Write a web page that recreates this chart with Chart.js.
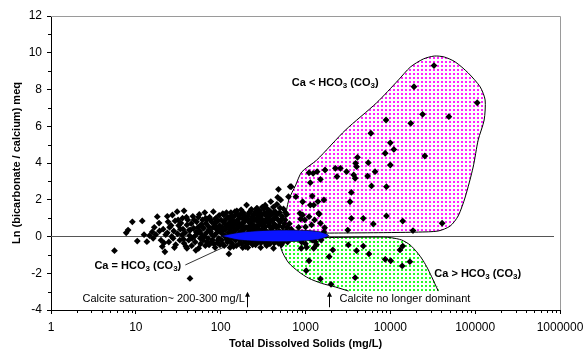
<!DOCTYPE html>
<html lang="en">
<head>
<meta charset="UTF-8">
<title>Ln (bicarbonate / calcium) vs Total Dissolved Solids</title>
<script src="https://cdn.jsdelivr.net/npm/chart.js"></script>
<style>
  body { margin: 0; background: #fff; }
</style>
</head>
<body>
<canvas id="tdsChart" width="585" height="353"></canvas>
<script>
// axis ticks
const xTicks = [1, 10, 100, 1000, 10000, 100000, 1000000];
const yMin = -4, yMax = 12, yStep = 2;

// samples: [TDS mg/L, ln(HCO3/Ca)]
const clusterPoints = [
  [5.6,-0.77],[7.7,0.2],[8.1,0.35],[9.1,0.8],[10.4,-0.25],[11.9,0.85],[12.5,0.1],[13.5,-0.28],[14.5,0.05],
  [15.6,0.25],[16,-0.1],[16.5,0.5],[17.2,0.1],[17.9,1.08],[18.8,0.73],[19,0.3],[19.8,-0.2],[20.5,-0.55],[21,0.4],
  [21.5,-0.35],[22,-0.83],[22.5,0.1],[23.5,1.1],[23.5,0.2],[24,0.8],[24.5,-0.3],[25,0.5],[26,0.6],[26.5,0.0],
  [27,1.17],[27.5,-0.1],[28,0.3],[28.5,-0.6],[29,0.85],[29.5,-0.45],[30.7,1.35],[31,0.15],[31.5,0.9],[32,0.6],
  [33,-0.2],[33.5,0.4],[34,0.73],[35,0.08],[35.5,1.0],[36,0.4],[36.5,-0.15],[37,1.4],[37,-0.37],[38,0.2],
  [39,-0.55],[39.5,1.05],[40,0.63],[40,-0.64],[41,0.9],[42,-0.2],[42.5,0.35],[43,0.05],[43.5,-2.28],[44,0.35],
  [45,0.7],[45.5,-0.5],[46,-0.1],[47,1.1],[48,0.45],[48.5,0.9],[49,0.0],[50,-0.3],[51,-0.75],[51.5,0.25],
  [52,0.8],[53,0.17],[54,0.5],[54.5,1.05],[55,-0.64],[56,1.2],[57,0.3],[57.5,-0.1],[58,-0.4],[59,0.65],
  [60,0.1],[60.5,0.55],[61,0.9],[62,-0.2],[63,0.45],[64,0.0],[65,1.3],[66,-0.5],[66.5,1.0],[67,0.72],
  [68,0.2],[69,-0.3],[70,0.95],[71,-0.1],[72,0.55],[72.5,0.35],[73,-0.46],[74,1.05],[75,0.3],[76,0.26],
  [76.5,0.9],[77,-0.3],[78,0.8],[79,0.1],[80,-0.19],[81,0.5],[82,1.35],[83,-0.4],[84,0.05],[85,0.7],
  [86,-0.6],[86.5,0.95],[87,0.45],[88,1.0],[89,0.5],[90,0.2],[91,-0.35],[92,0.85],[93,-0.2],[94,0.4],
  [95,-0.1],[96,1.15],[97,0.6],[97.5,0.3],[98,-0.45],[99,0.25],
  [101,0.9],[102,0.3],[103,-0.2],[104,0.5],[105,-0.4],[106,1.25],[107,0.1],[108,0.8],[109,1.17],[110,-0.5],
  [111,0.7],[112,0.05],[113,0.35],[115,-0.05],[116,0.95],[117,1.3],[118,0.55],[119,-0.15],[120,-0.3],[121,0.6],
  [122,1.05],[124,0.2],[125,-0.95],[126,0.75],[127,1.0],[128,0.4],[129,-0.6],[130,-0.15],[131,0.25],[132,1.3],
  [134,0.6],[135,1.15],[136,0.9],[136,-0.37],[138,0.15],[139,0.75],[140,0.5],[142,-0.55],[143,-0.1],[144,1.1],
  [146,0.3],[147,1.35],[148,0.8],[149,0.35],[150,-0.2],[152,0.65],[153,-0.5],[155,1.4],[156,0.85],[157,0.05],
  [159,1.2],[160,0.45],[162,0.95],[163,0.15],[165,-0.4],[166,1.0],[167,0.7],[168,-0.2],[170,1.2],[171,0.6],
  [172,0.25],[174,1.45],[175,-0.1],[177,-0.4],[178,0.55],[180,0.99],[181,0.3],[182,-0.6],[184,0.75],[185,1.3],
  [187,-0.05],[188,0.4],[190,0.8],[191,1.15],[193,-0.25],[195,0.5],[196,-0.55],[198,1.0],[199,-0.35],
  [202,1.71],[204,0.5],[205,0.95],[207,0.15],[209,-0.6],[210,1.1],[212,0.4],[213,-0.35],[215,1.26],[216,0.0],
  [218,0.75],[220,0.3],[221,1.35],[223,-0.1],[224,0.6],[226,0.9],[228,-0.3],[230,1.48],[232,0.45],[233,0.85],
  [235,1.08],[237,0.2],[238,-0.45],[240,0.65],[242,1.0],[243,1.2],[245,-0.15],[246,0.2],[248,0.45],[250,0.9],
  [252,1.2],[253,-0.2],[256,1.35],[258,-0.45],[260,0.55],[262,0.95],[265,1.53],[267,0.35],[268,0.1],[270,1.53],
  [272,1.25],[273,0.8],[276,-0.3],[278,0.6],[280,1.1],[282,-0.1],[284,0.4],[286,0.85],[288,1.4],[290,1.3],
  [292,0.7],[294,0.25],[296,-0.6],[298,-0.35],[300,1.0],[302,0.65],[305,0.3],[308,1.2],[310,1.6],[312,0.1],
  [315,0.85],[318,0.45],[320,-0.15],[323,1.5],[325,1.25],[328,-0.3],[330,0.5],[333,0.75],[335,1.7],[338,1.15],
  [340,0.9],[343,0.3],[345,-0.4],[348,-0.5],[350,1.53],[353,0.95],[355,0.2],[358,1.35],[360,1.15],[364,0.05],
  [366,0.6],[370,0.75],[372,-0.25],[376,1.1],[378,1.4],[381,-0.4],[384,0.85],[387,0.55],[390,1.9],[393,1.25],
  [396,0.4],[399,-0.1],[402,1.2],[405,0.9],[410,0.15],[414,0.5],[418,1.6],[420,-0.64],[423,1.3],[426,0.7],
  [430,-0.35],[433,1.0],[437,0.6],[440,1.35],[444,1.05],[446,-0.2],[452,0.5],[455,0.2],[460,1.75],[465,1.2],
  [470,2.13],[475,0.9],[480,2.57],[480,-0.37],[485,0.6],[488,0.3],[495,1.3],[500,1.55],[505,0.8],[510,1.99],
  [515,0.2],[520,-0.45],[525,0.95],[530,1.1],[540,0.5],[545,-0.3],[550,1.5],[560,-0.1],[565,0.7],[575,0.9],
  [580,1.3],[590,0.3],[600,1.2],[610,0.5],[615,-0.3],[630,2.17],[645,0.7],[660,2.71],[680,0.4],
  [830,0.5],[900,-0.3],[1000,-0.4],[1100,0.1],[1200,-0.2],[1350,-0.45]
];
const upperPoints = [
  [32700,9.3],[19000,8.15],[105700,7.28],[24000,6.65],[49000,6.52],[8900,6.34],[17400,6.16],[5900,5.62],
  [10000,5.1],[11000,4.74],[8700,4.53],[25500,4.38],[4100,4.31],[10000,3.89],[5500,4.02],[3900,3.98],
  [4000,3.8],[6600,3.53],[5400,3.29],[2250,3.71],[2580,3.71],[3050,3.53],[3700,3.35],[3850,3.17],
  [2350,3.26],[1700,3.62],[1500,3.11],[1370,3.53],[1230,3.44],[1100,3.47],[1140,2.93],[680,2.71],
  [6000,2.75],[9000,2.71],[3470,2.4],[1200,2.2],[770,2.17],[1400,1.9],[1650,1.99],[1140,1.71],
  [3350,1.89],[1430,1.26],[9000,1.12],[3470,0.99],[925,1.89],[1250,1.71],[860,1.26],[925,1.17],
  [1100,1.08],[980,0.9],[1280,0.9],[1450,1.22],[1500,0.72],[1680,0.48],[4800,0.99],[6300,0.68],
  [14000,0.84],[3150,0.35],[18500,0.32],[40800,0.72],[875,0.95],[1000,0.52],[1180,0.63],[1650,0.25]
];
const lowerPoints = [
  [890,-0.64],[1030,-0.59],[1250,-0.64],[1300,-0.28],[1530,-0.19],[2100,-0.73],[1900,-1.1],[3200,-0.46],
  [4000,-0.77],[4800,-0.52],[5600,-0.95],[13000,-0.73],[14000,-0.52],[8700,-1.24],[10100,-1.32],[13800,-1.6],
  [17000,-1.37],[1100,-1.32],[1020,-1.86],[1500,-2.31],[3850,-2.24],[2000,-2.6]
];

// outlined fields
const upperRegion = [
  [532,0.14],[570,0.9],[635,1.99],[767,2.8],[902,3.51],[1355,4.16],[2970,5.8],[6870,7.27],[12470,8.52],
  [17200,9.22],[24450,9.66],[32960,9.82],[43200,9.77],[58200,9.5],[82800,8.9],[114600,8.14],[131000,7.43],
  [127600,6.34],[108500,5.25],[94700,3.78],[76400,2.15],[63100,1.12],[50800,0.57],[36700,0.3],[21400,0.24],
  [8300,0.21],[2460,0.19],[832,0.17],[532,0.14]
];
const lowerRegion = [
  [498,-0.46],[540,-0.9],[635,-1.44],[832,-1.92],[1090,-2.27],[1550,-2.55],[2265,-2.75],[3220,-2.97],
  [36700,-2.97],[30700,-2.19],[26800,-1.64],[23400,-1.19],[20400,-0.83],[17100,-0.46],[13600,-0.19],
  [10400,-0.07],[8300,-0.03],[2460,-0.05],[832,-0.08],[530,-0.08],[498,-0.46]
];
const lowerOpenEdge = 7; // bottom edge of the lower field is not outlined
const equalBand = [
  [100.8,0.03],[164,0.22],[323,0.33],[727,0.35],[1430,0.27],[1875,0.05],
  [1430,-0.16],[727,-0.27],[323,-0.27],[164,-0.19],[100.8,0.03]
];
const equalLeader = [[38.3,-1.55],[139.5,-0.35]];
const zeroLine = [[1,0],[850000,0]];

const notes = [
  { text: 'Ca < HCO_3 (CO_3)', x: 689, y: 8.35, bold: true },
  { text: 'Ca = HCO_3 (CO_3)', x: 3.25, y: -1.6, bold: true },
  { text: 'Ca > HCO_3 (CO_3)', x: 33000, y: -2.04, bold: true },
  { text: 'Calcite saturation~ 200-300 mg/L', x: 2.35, y: -3.4 },
  { text: 'Calcite no longer dominant', x: 2520, y: -3.4 }
];
const arrowTDS = [205, 1910];
const arrowFrom = -3.85, arrowTo = -3.0;

const FONT = 'Arial, "Liberation Sans", sans-serif';

function toXY(pairs) {
  return pairs.map(p => ({ x: p[0], y: p[1] }));
}

function dotPattern(color) {
  const c = document.createElement('canvas');
  c.width = 4; c.height = 4;
  const g = c.getContext('2d');
  g.fillStyle = color;
  g.fillRect(1, 1, 2, 2);
  return g.createPattern(c, 'repeat');
}

function drawNote(ctx, note, px, py) {
  const parts = note.text.split(/_(\d)/);
  let x = px;
  ctx.textBaseline = 'middle';
  ctx.textAlign = 'left';
  ctx.fillStyle = '#000';
  parts.forEach((part, i) => {
    const sub = i % 2 === 1;
    const size = sub ? 8 : 11;
    ctx.font = (note.bold ? 'bold ' : '') + size + 'px ' + FONT;
    ctx.fillText(part, x, sub ? py + 3 : py);
    x += ctx.measureText(part).width;
  });
}

const extras = {
  id: 'extras',
  afterDraw(chart) {
    const ctx = chart.ctx;
    const xs = chart.scales.x, ys = chart.scales.y;
    const a = chart.chartArea;
    ctx.save();
    // frame top / right
    ctx.strokeStyle = '#9a9a9a';
    ctx.lineWidth = 1;
    ctx.beginPath();
    ctx.moveTo(a.left, a.top + 0.5);
    ctx.lineTo(a.right + 0.5, a.top + 0.5);
    ctx.lineTo(a.right + 0.5, a.bottom);
    ctx.stroke();
    // minor ticks
    ctx.strokeStyle = '#000';
    ctx.beginPath();
    for (let d = 1; d < 1000000; d *= 10) {
      for (let k = 2; k <= 9; k++) {
        const px = Math.round(xs.getPixelForValue(d * k)) + 0.5;
        ctx.moveTo(px, a.bottom);
        ctx.lineTo(px, a.bottom + 3);
      }
    }
    for (let v = yMin + 1; v < yMax; v += yStep) {
      const py = Math.round(ys.getPixelForValue(v)) + 0.5;
      ctx.moveTo(a.left, py);
      ctx.lineTo(a.left - 3, py);
    }
    ctx.stroke();
    // notes
    notes.forEach(n => drawNote(ctx, n, xs.getPixelForValue(n.x), ys.getPixelForValue(n.y)));
    // arrows
    ctx.strokeStyle = '#000';
    ctx.fillStyle = '#000';
    arrowTDS.forEach(v => {
      const px = Math.round(xs.getPixelForValue(v)) + 0.5;
      const y0 = ys.getPixelForValue(arrowFrom), y1 = ys.getPixelForValue(arrowTo);
      ctx.beginPath();
      ctx.moveTo(px, y0);
      ctx.lineTo(px, y1 + 3);
      ctx.stroke();
      ctx.beginPath();
      ctx.moveTo(px, y1);
      ctx.lineTo(px - 2.5, y1 + 5);
      ctx.lineTo(px + 2.5, y1 + 5);
      ctx.closePath();
      ctx.fill();
    });
    ctx.restore();
  }
};

const outline = { showLine: true, pointRadius: 0, borderColor: '#000', borderWidth: 1, tension: 0.25 };
const marker = { pointStyle: 'rectRot', pointRadius: 3.4, backgroundColor: '#000', borderWidth: 0, showLine: false };

new Chart(document.getElementById('tdsChart'), {
  type: 'scatter',
  data: {
    datasets: [
      Object.assign({ data: toXY(zeroLine), order: 9 }, outline, { borderColor: '#555', tension: 0 }),
      Object.assign({ data: toXY(upperRegion), order: 8, fill: 'shape', backgroundColor: dotPattern('#ff22ff') }, outline),
      Object.assign({ data: toXY(lowerRegion), order: 7, fill: 'shape', backgroundColor: dotPattern('#22ff22') }, outline,
        { borderColor: 'rgba(0,0,0,0)' }),
      Object.assign({ data: toXY(lowerRegion.slice(0, lowerOpenEdge + 1)), order: 6 }, outline),
      Object.assign({ data: toXY(lowerRegion.slice(lowerOpenEdge + 1)), order: 6 }, outline),
      Object.assign({ data: toXY(equalLeader), order: 6 }, outline, { tension: 0, borderWidth: 0.8 }),
      Object.assign({ data: toXY(clusterPoints), order: 3 }, marker),
      Object.assign({ data: toXY(upperPoints), order: 2 }, marker),
      Object.assign({ data: toXY(lowerPoints), order: 2 }, marker),
      Object.assign({ data: toXY(equalBand), order: 1, fill: 'shape', backgroundColor: '#0a14ff' }, outline, { borderWidth: 0.7, tension: 0.3 })
    ]
  },
  options: {
    responsive: false,
    animation: false,
    events: [],
    layout: { padding: { left: 0, top: 16, right: 25, bottom: 0 } },
    plugins: { legend: { display: false }, tooltip: { enabled: false } },
    scales: {
      x: {
        type: 'logarithmic',
        min: 1,
        max: 1000000,
        afterBuildTicks: s => { s.ticks = xTicks.map(v => ({ value: v })); },
        afterFit: s => { s.height = 43; s.paddingLeft = 0; s.paddingRight = 0; },
        grid: { drawOnChartArea: false, tickLength: 4, color: '#000' },
        border: { color: '#000', width: 1 },
        ticks: {
          autoSkip: false, maxRotation: 0, padding: 6, color: '#000',
          font: { family: FONT, size: 12 },
          callback: v => String(v)
        },
        title: {
          display: true, text: 'Total Dissolved Solids (mg/L)', color: '#000',
          font: { family: FONT, size: 11, weight: 'bold' }, padding: { top: 0, bottom: 2 }
        }
      },
      y: {
        min: yMin,
        max: yMax,
        afterFit: s => { s.width = 51; s.paddingTop = 0; s.paddingBottom = 0; },
        grid: { drawOnChartArea: false, tickLength: 4, color: '#000' },
        border: { color: '#000', width: 1 },
        ticks: {
          stepSize: yStep, padding: 5, color: '#000',
          font: { family: FONT, size: 12 }
        },
        title: {
          display: true, text: 'Ln (bicarbonate / calcium) meq', color: '#000',
          font: { family: FONT, size: 11, weight: 'bold' }, padding: { top: 10, bottom: 0 }
        }
      }
    }
  },
  plugins: [extras]
});
</script>
</body>
</html>
